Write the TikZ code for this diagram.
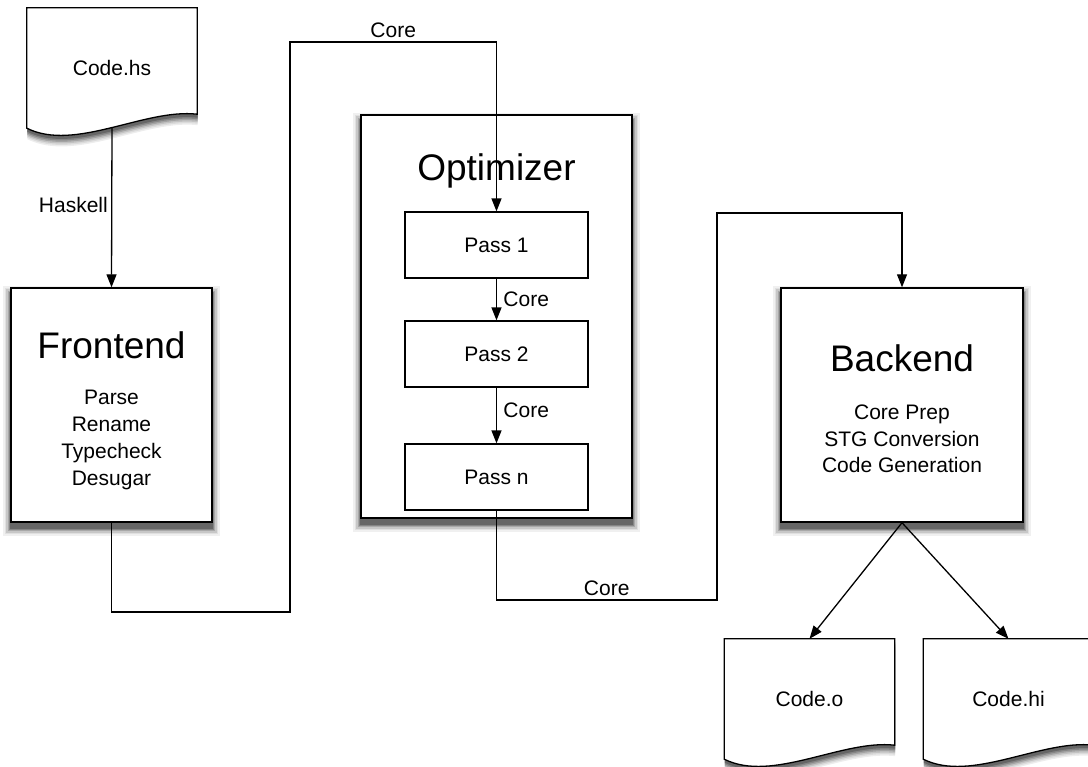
\documentclass[tikz,border=0pt]{standalone}
\usepackage{fontspec}
\setmainfont{Liberation Sans}
\usetikzlibrary{calc,arrows.meta,backgrounds}

% outline of a document node (wavy bottom), moved by #2,#3
\newcommand{\docpath}[3]{($ (#1.south west)+(#2,#3)$) -- ($ (#1.north west)+(#2,#3)$) -- ($ (#1.north east)+(#2,#3)$) -- ($ (#1.south east)+(#2,#3-14)$) .. controls ($ (#1.south west)+(#2+118,#3-20)$) and ($ (#1.south west)+(#2+48,#3+24)$) .. ($ (#1.south west)+(#2,#3)$) -- cycle}

% soft shadow below a box node
\newcommand{\boxshadow}[1]{%
\begin{scope}[on background layer]
\foreach \s/\c in {7/6,5.5/12,4/22,2.5/34,1/48,0/60}
  \fill[black!\c] ($ (#1.south west)+(-\s,6+\s)$) rectangle ($ (#1.north east)+(\s,6-\s)$);
\end{scope}}

% document shape with its shadow
\newcommand{\docshape}[1]{%
\begin{scope}[on background layer]
\foreach \d/\c in {11/7,9.5/14,8/24,6.5/36,5/48,3.5/60}
  \fill[black!\c] \docpath{#1}{0.5}{\d};
\draw[line width=1.3pt,fill=white] \docpath{#1}{0}{0};
\end{scope}}

\begin{document}
\begin{tikzpicture}[x=1pt,y=-1pt,
  body/.style={font=\fontsize{21}{26.7}\selectfont},
  title/.style={font=\fontsize{37}{44}\selectfont},
  box/.style={draw,rectangle,fill=white,line width=1.4pt},
  pass/.style={draw,rectangle,fill=white,line width=1.2pt,minimum width=183pt,minimum height=66pt,body},
  doc/.style={rectangle,minimum width=170pt,minimum height=120pt,body},
  flow/.style={-{Triangle[length=13pt,width=10pt]},line width=1.3pt}]
\useasboundingbox (0,0) rectangle (1088,767);

% source file
\node[doc] (hs) at (112,68) {Code.hs};
\docshape{hs}

% frontend
\node[box,minimum width=201pt,minimum height=234pt] (frontend) at (111.5,405) {};
\boxshadow{frontend}
\node[title] (frontendtitle) at ($ (frontend)+(0,-60)$) {Frontend};
\node[body,align=center] (frontendsteps) at ($ (frontend)+(0,35)$) {Parse\\Rename\\Typecheck\\Desugar};
\draw[flow] (hs.south) -- node[body,left,pos=0.48]{Haskell} (frontend.north);

% optimizer
\node[box,minimum width=271pt,minimum height=403pt] (optimizer) at (496.5,316.5) {};
\boxshadow{optimizer}
\node[title] (optimizertitle) at ($ (optimizer)+(0,-146)$) {Optimizer};
\node[pass] (pass1) at (496.5,245) {Pass 1};
\node[pass] (pass2) at (496.5,354) {Pass 2};
\node[pass] (passn) at (496.5,477) {Pass n};
\draw[flow] (pass1.south) -- node[body,right=3pt]{Core} (pass2.north);
\draw[flow] (pass2.south) -- node[body,right=3pt,pos=0.4]{Core} (passn.north);

\coordinate (fe1) at (290,612);
\coordinate (fe2) at (290,42);
\draw[flow] (frontend.south) |- (fe1) -- (fe2) -| node[body,pos=0.25,above=0pt]{Core} (pass1.north);

% backend
\node[box,minimum width=242pt,minimum height=234pt] (backend) at (902,405) {};
\boxshadow{backend}
\node[title] (backendtitle) at ($ (backend)+(0,-47)$) {Backend};
\node[body,align=center] (backendsteps) at ($ (backend)+(0,34)$) {Core Prep\\STG Conversion\\Code Generation};

\coordinate (op1) at (717,600);
\coordinate (op2) at (717,213);
\draw[flow] (passn.south) |- node[body,pos=0.75,above=0pt]{Core} (op1) -- (op2) -| (backend.north);

% outputs
\node[doc] (codeo) at (809.5,699) {Code.o};
\docshape{codeo}
\node[doc] (codehi) at (1008.5,699) {Code.hi};
\docshape{codehi}
\draw[flow] (backend.south) -- (codeo.north);
\draw[flow] (backend.south) -- (codehi.north);

\end{tikzpicture}
\end{document}
